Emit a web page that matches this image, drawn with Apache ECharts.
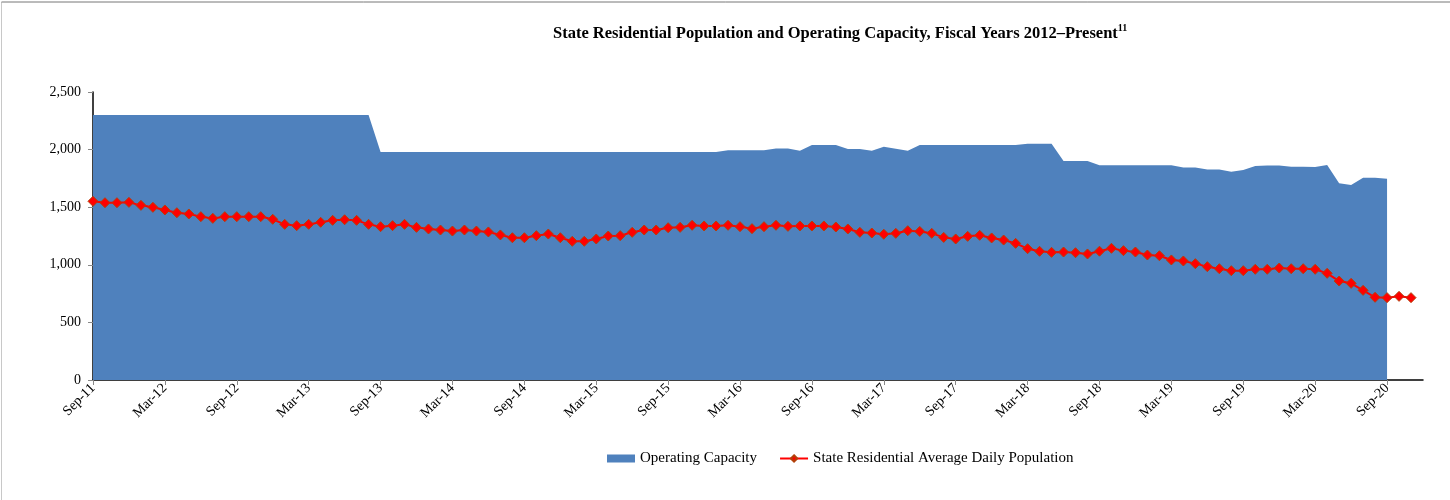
<!DOCTYPE html>
<html>
<head>
<meta charset="utf-8">
<script src="https://cdn.jsdelivr.net/npm/echarts@6/dist/echarts.min.js"></script>
<style>
  html, body { margin: 0; padding: 0; background: #fff; }
  #chart { width: 1450px; height: 500px; }
</style>
</head>
<body>
<div id="chart"></div>
<script>
  // 月份 (Sep-11 .. Dec-20)
  var months = [
    'Sep-11','Oct-11','Nov-11','Dec-11','Jan-12','Feb-12','Mar-12','Apr-12','May-12','Jun-12','Jul-12','Aug-12',
    'Sep-12','Oct-12','Nov-12','Dec-12','Jan-13','Feb-13','Mar-13','Apr-13','May-13','Jun-13','Jul-13','Aug-13',
    'Sep-13','Oct-13','Nov-13','Dec-13','Jan-14','Feb-14','Mar-14','Apr-14','May-14','Jun-14','Jul-14','Aug-14',
    'Sep-14','Oct-14','Nov-14','Dec-14','Jan-15','Feb-15','Mar-15','Apr-15','May-15','Jun-15','Jul-15','Aug-15',
    'Sep-15','Oct-15','Nov-15','Dec-15','Jan-16','Feb-16','Mar-16','Apr-16','May-16','Jun-16','Jul-16','Aug-16',
    'Sep-16','Oct-16','Nov-16','Dec-16','Jan-17','Feb-17','Mar-17','Apr-17','May-17','Jun-17','Jul-17','Aug-17',
    'Sep-17','Oct-17','Nov-17','Dec-17','Jan-18','Feb-18','Mar-18','Apr-18','May-18','Jun-18','Jul-18','Aug-18',
    'Sep-18','Oct-18','Nov-18','Dec-18','Jan-19','Feb-19','Mar-19','Apr-19','May-19','Jun-19','Jul-19','Aug-19',
    'Sep-19','Oct-19','Nov-19','Dec-19','Jan-20','Feb-20','Mar-20','Apr-20','May-20','Jun-20','Jul-20','Aug-20',
    'Sep-20','Oct-20','Nov-20','Dec-20'
  ];

  var capacity = [
    2300,2300,2300,2300,2300,2300,2300,2300,2300,2300,2300,2300,
    2300,2300,2300,2300,2300,2300,2300,2300,2300,2300,2300,2300,
    1980,1980,1980,1980,1980,1980,1980,1980,1980,1980,1980,1980,
    1980,1980,1980,1980,1980,1980,1980,1980,1980,1980,1980,1980,
    1980,1980,1980,1980,1980,1995,1995,1995,1995,2010,2010,1990,
    2040,2040,2040,2005,2005,1990,2025,2008,1990,2040,2040,2040,
    2040,2040,2040,2040,2040,2040,2050,2050,2050,1900,1900,1900,
    1865,1865,1865,1865,1865,1865,1865,1845,1845,1828,1828,1808,
    1823,1858,1863,1863,1852,1852,1849,1866,1707,1693,1755,1755,
    1747,null,null,null
  ];

  var population = [
    1551,1539,1539,1542,1516,1499,1476,1452,1441,1418,1403,1418,
    1418,1418,1418,1395,1351,1340,1351,1369,1386,1391,1386,1351,
    1331,1340,1351,1325,1311,1302,1293,1302,1293,1285,1259,1235,
    1235,1253,1267,1235,1204,1204,1224,1250,1253,1282,1302,1302,
    1322,1325,1343,1337,1337,1343,1331,1314,1331,1343,1334,1337,
    1337,1337,1328,1311,1282,1276,1265,1273,1296,1290,1273,1238,
    1224,1247,1256,1233,1215,1186,1140,1117,1108,1111,1105,1094,
    1118,1143,1123,1111,1085,1079,1042,1033,1010,984,966,949,
    949,961,961,972,966,966,961,926,859,839,778,718,
    715,726,715,null
  ];

  var yTicks = [0, 500, 1000, 1500, 2000, 2500];

  var serif = '"Liberation Serif", "Times New Roman", serif';
  var chart = echarts.init(document.getElementById('chart'));

  var option = {
    animation: false,
    backgroundColor: '#fff',
    textStyle: { fontFamily: serif },
    title: {
      text: '{t|State Residential Population and Operating Capacity, Fiscal Years 2012–Present}{s|11}',
      left: 548,
      top: 18,
      textStyle: {
        rich: {
          t: { fontFamily: serif, fontSize: 16.5, fontWeight: 'bold', color: '#000', verticalAlign: 'bottom' },
          s: { fontFamily: serif, fontSize: 10, fontWeight: 'bold', color: '#000', verticalAlign: 'top', padding: [0, 0, 9, 0] }
        }
      }
    },
    legend: {
      left: 602,
      top: 446,
      itemGap: 22,
      itemWidth: 28,
      itemHeight: 8,
      textStyle: { fontFamily: serif, fontSize: 15, color: '#000' },
      data: [
        { name: 'Operating Capacity', icon: 'rect' },
        { name: 'State Residential Average Daily Population' }
      ]
    },
    grid: { left: 93, right: 27, top: 92, bottom: 120 },
    xAxis: {
      type: 'category',
      data: months,
      boundaryGap: false,
      axisLine: { lineStyle: { color: '#000', width: 1.5 } },
      axisTick: { interval: 5, length: 5, lineStyle: { color: '#888' } },
      axisLabel: { interval: 5, rotate: 45, fontFamily: serif, fontSize: 14, color: '#000', margin: 6 },
      splitLine: { show: false }
    },
    yAxis: {
      type: 'value',
      min: yTicks[0],
      max: yTicks[yTicks.length - 1],
      interval: 500,
      axisLine: { show: true, lineStyle: { color: '#000', width: 1.5 } },
      axisTick: { show: true, length: 5, lineStyle: { color: '#888' } },
      axisLabel: {
        fontFamily: serif, fontSize: 14, color: '#000', margin: 12,
        formatter: function (v) { return v.toLocaleString('en-US'); }
      },
      splitLine: { show: false }
    },
    graphic: [
      { type: 'line', shape: { x1: 1.5, y1: 2, x2: 1.5, y2: 500 }, style: { stroke: '#c8c8c8', lineWidth: 1 } },
      { type: 'line', shape: { x1: 1.5, y1: 2, x2: 1450, y2: 2 }, style: { stroke: '#777', lineWidth: 1 } }
    ],
    series: [
      {
        name: 'Operating Capacity',
        type: 'line',
        data: capacity,
        symbol: 'none',
        color: '#4F81BD',
        lineStyle: { width: 0 },
        areaStyle: { color: '#4F81BD', opacity: 1 },
        z: 1
      },
      {
        name: 'State Residential Average Daily Population',
        type: 'line',
        data: population,
        symbol: 'diamond',
        symbolSize: 10,
        showAllSymbol: true,
        color: '#FF0000',
        lineStyle: { color: '#FF0000', width: 2 },
        itemStyle: { color: '#FF0000', borderColor: '#B3400A', borderWidth: 1 },
        z: 3
      }
    ]
  };

  chart.setOption(option);
</script>
</body>
</html>
